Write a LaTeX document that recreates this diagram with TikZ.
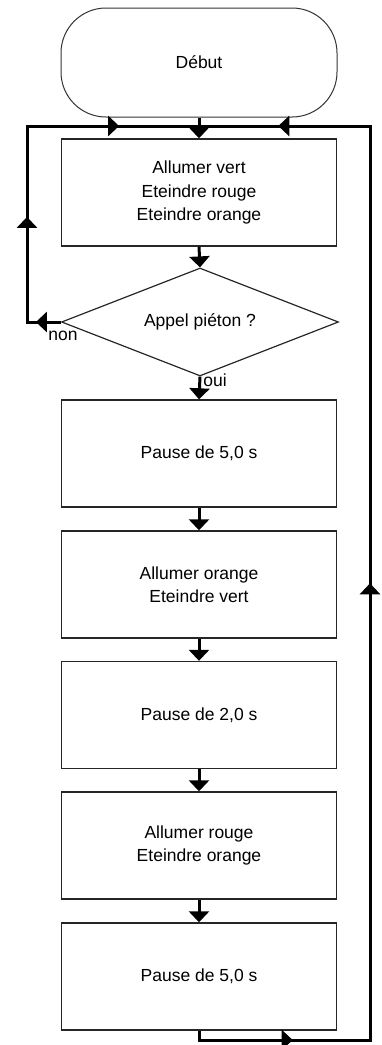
\documentclass[tikz,border=0pt]{standalone}
\usepackage{fontspec}
\setmainfont{Liberation Sans}
\usetikzlibrary{arrows.meta,shapes.geometric,decorations.markings}
\tikzset{flowtip/.tip={Triangle[width=20pt,length=11pt]}}
\begin{document}
\begin{tikzpicture}[x=1pt,y=-1pt,
  font=\fontsize{17.5}{23.5}\selectfont,
  stepbox/.style={draw=black!85,line width=1.4pt,minimum width=275pt,minimum height=107pt,inner sep=0pt,align=center},
  startbox/.style={draw=black!80,line width=1pt,rounded corners=45pt,minimum width=276pt,minimum height=109pt,inner sep=0pt,align=center},
  decision/.style={draw=black!85,line width=1.2pt,diamond,aspect=2.56,minimum width=277pt,minimum height=108pt,inner sep=0pt},
  flow/.style={line width=3pt,-flowtip},
  loopline/.style={line width=3pt},
  lbl/.style={inner sep=0pt}
]
\useasboundingbox (0,0) rectangle (382,1045);
\node[startbox] (debut) at (199,62.5) {Début};
\node[stepbox] (b1) at (199,192.5) {Allumer vert\\Eteindre rouge\\Eteindre orange};
\node[decision] (dia) at (200,322) {Appel piéton ?};
\node[stepbox] (b2) at (199,453.5) {Pause de 5,0 s};
\node[stepbox] (b3) at (199,584.5) {Allumer orange\\Eteindre vert};
\node[stepbox] (b4) at (199,715) {Pause de 2,0 s};
\node[stepbox] (b5) at (199,845.5) {Allumer rouge\\Eteindre orange};
\node[stepbox] (b6) at (199,976.5) {Pause de 5,0 s};

\coordinate (bus) at (199,126);
\coordinate (nl1) at (27,322);
\coordinate (nl2) at (27,126);
\coordinate (rl1) at (199,1040);
\coordinate (rl2) at (370,1040);
\coordinate (rl3) at (370,126);

\draw[flow] (debut.south) -- (b1.north);
\draw[flow] (b1.south) -- (dia.north);
\draw[flow] (dia.south) -- (b2.north);
\draw[flow] (b2.south) -- (b3.north);
\draw[flow] (b3.south) -- (b4.north);
\draw[flow] (b4.south) -- (b5.north);
\draw[flow] (b5.south) -- (b6.north);

\draw[loopline,postaction={decorate},decoration={markings,
   mark=at position 25pt with {\arrow{flowtip}},
   mark=at position 139pt with {\arrow{flowtip}},
   mark=at position 322pt with {\arrow{flowtip}}}]
  (dia.west) -- (nl1) -- (nl2) -- (bus);

\draw[loopline,postaction={decorate},decoration={markings,
   mark=at position 103pt with {\arrow{flowtip}},
   mark=at position 637pt with {\arrow{flowtip}},
   mark=at position 1186pt with {\arrow{flowtip}}}]
  (b6.south) -- (rl1) -- (rl2) -- (rl3) -- (bus);

\node[lbl] (non) at (63,336) {non};
\node[lbl] (oui) at (215,380) {oui};
\end{tikzpicture}
\end{document}
